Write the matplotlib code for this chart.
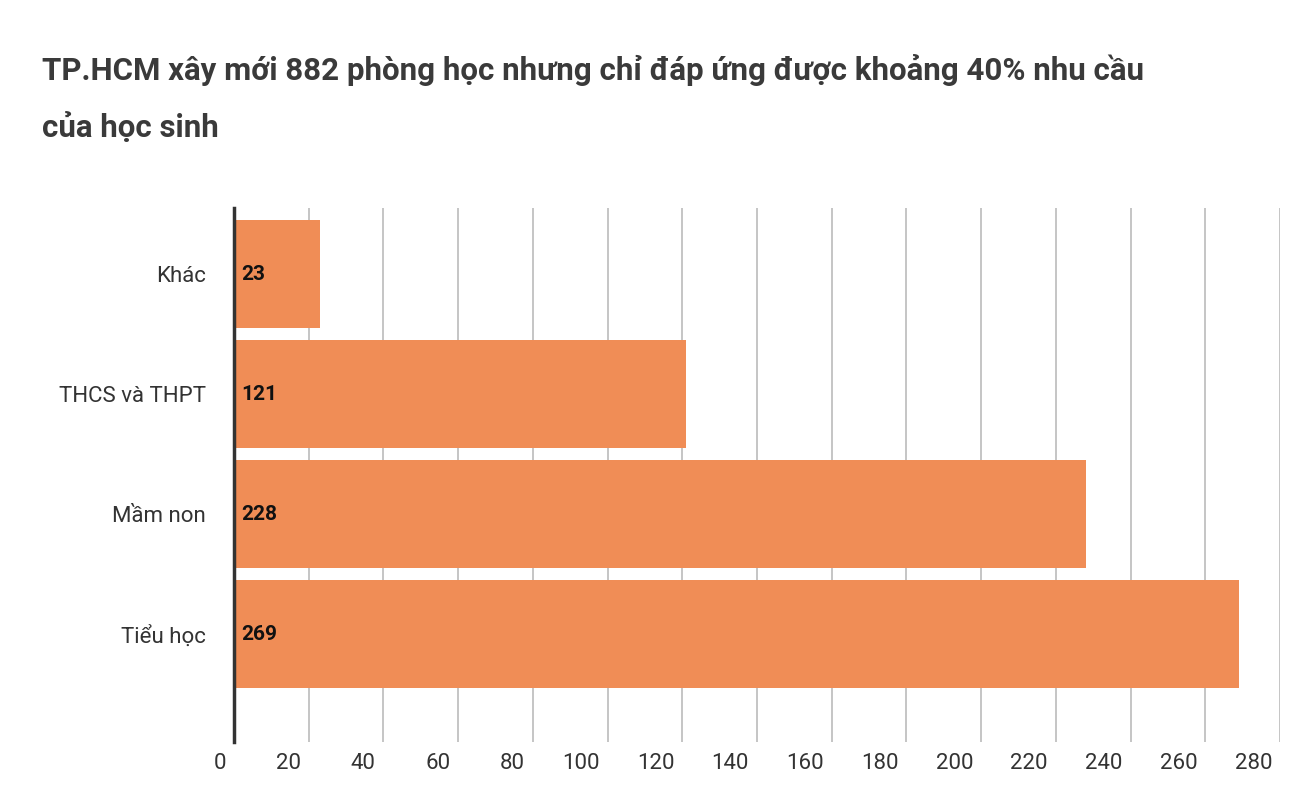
import matplotlib
matplotlib.use("Agg")
import matplotlib.pyplot as plt
import matplotlib.transforms as mtransforms

plt.rcParams['font.family'] = ['Roboto', 'DejaVu Sans']

categories = ["Tiểu học", "Mầm non", "THCS và THPT", "Khác"]
values = [269, 228, 121, 23]
ticks = list(range(0, 281, 20))

fig = plt.figure(figsize=(13.12, 7.88), dpi=100)
ax = fig.add_axes([234 / 1312, 1 - 742 / 788, (1280 - 234) / 1312, (742 - 208) / 788])

ys = list(range(len(categories)))
ax.barh(ys, values, height=0.9, color="#F08D56", zorder=3)
for y, v in zip(ys, values):
    ax.text(2, y, str(v), va="center", ha="left", fontsize=15,
            fontweight="bold", color="#111111", zorder=4)

ax.set_xlim(0, 280)
ax.set_ylim(-0.9, 3.55)
ax.set_yticks(ys)
ax.set_yticklabels(categories, fontsize=16, color="#333333")
ax.tick_params(axis="y", length=0, pad=20)

ax.set_xticks(ticks)
ax.set_xticklabels([str(t) for t in ticks], fontsize=16, color="#333333", ha="right")
ax.tick_params(axis="x", length=0, pad=8)
offset = mtransforms.ScaledTranslation(-8 / 100, 0, fig.dpi_scale_trans)
for lbl in ax.get_xticklabels():
    lbl.set_transform(lbl.get_transform() + offset)

ax.grid(axis="x", color="#BBBBBB", linewidth=1.2, zorder=0)
for s in ["top", "right", "bottom"]:
    ax.spines[s].set_visible(False)
ax.spines["left"].set_color("#333333")
ax.spines["left"].set_linewidth(2.5)
ax.spines["left"].set_zorder(5)

fig.text(42 / 1312, 1 - 70 / 788, "TP.HCM xây mới 882 phòng học nhưng chỉ đáp ứng được khoảng 40% nhu cầu",
         fontsize=22.5, fontweight="bold", color="#3a3a3a", va="center")
fig.text(42 / 1312, 1 - 127 / 788, "của học sinh",
         fontsize=22.5, fontweight="bold", color="#3a3a3a", va="center")

fig.savefig("out.png", dpi=100, facecolor="white")
